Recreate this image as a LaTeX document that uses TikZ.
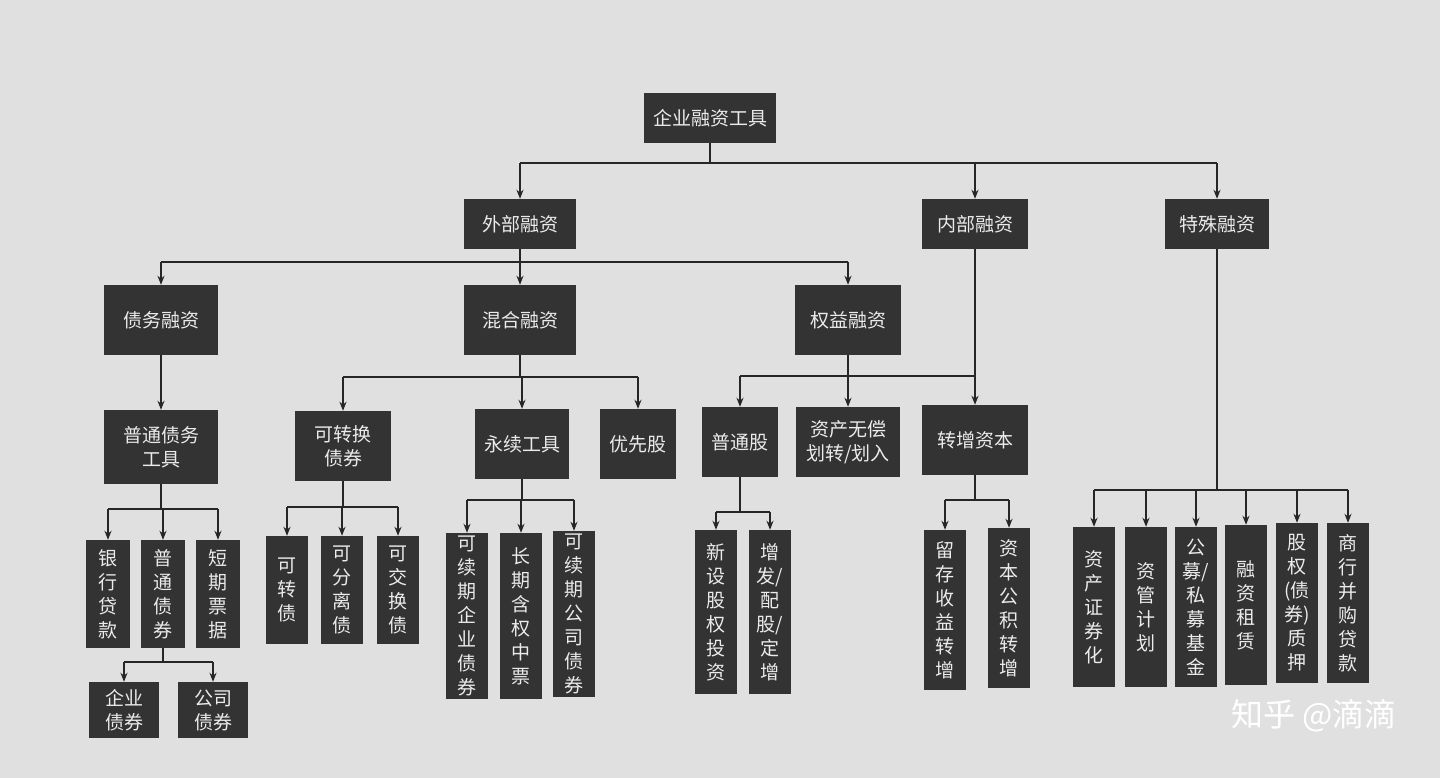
\documentclass[tikz,border=0pt]{standalone}
\usepackage{fontspec}
\setmainfont{Noto Sans CJK SC}
\usetikzlibrary{arrows.meta}
\begin{document}
\begin{tikzpicture}[x=1pt,y=-1pt,
 bx/.style={fill=black!80,text=white!92!black,font=\fontsize{19}{24}\selectfont,inner sep=0pt,align=center},
 ln/.style={draw=black!85,line width=1.6pt},
 arr/.style={ln,-{Stealth[length=9pt,width=7pt]}}]
\fill[black!12] (0,0) rectangle (1440,778);
\useasboundingbox (0,0) rectangle (1440,778);
\newcommand{\bn}[5]{\node[bx,minimum width=#3,minimum height=#4] (#1) at #2 {#5};}
\bn{root}{(710,118)}{132}{50}{企业融资工具}
\bn{wai}{(520,224)}{112}{50}{外部融资}
\bn{nei}{(975,224)}{106}{50}{内部融资}
\bn{te}{(1217,224)}{104}{50}{特殊融资}
\bn{zw}{(161,320)}{114}{70}{债务融资}
\bn{hh}{(520,320)}{112}{70}{混合融资}
\bn{qy}{(848,320)}{106}{70}{权益融资}
\bn{pt}{(161,447)}{114}{74}{普通债务\\工具}
\bn{kz}{(343,446)}{96}{70}{可转换\\债券}
\bn{yx}{(522,444)}{94}{70}{永续工具}
\bn{yxg}{(638,444)}{76}{70}{优先股}
\bn{ptg}{(740,442)}{76}{70}{普通股}
\bn{zc}{(848,442)}{104}{70}{资产无偿\\划转/划入}
\bn{zz}{(975,440)}{106}{70}{转增资本}
\bn{a1}{(108,594)}{44}{108}{银\\行\\贷\\款}
\bn{a2}{(163,594)}{44}{108}{普\\通\\债\\券}
\bn{a3}{(218,594)}{44}{108}{短\\期\\票\\据}
\bn{b1}{(287,590)}{42}{108}{可\\转\\债}
\bn{b2}{(342,590)}{42}{108}{可\\分\\离\\债}
\bn{b3}{(398,590)}{42}{108}{可\\交\\换\\债}
\bn{c1}{(467,616)}{42}{166}{可\\续\\期\\企\\业\\债\\券}
\bn{c2}{(521,616)}{42}{166}{长\\期\\含\\权\\中\\票}
\bn{c3}{(574,614)}{42}{166}{可\\续\\期\\公\\司\\债\\券}
\bn{d1}{(716,612)}{42}{164}{新\\设\\股\\权\\投\\资}
\bn{d2}{(770,612)}{42}{164}{增\\发/\\配\\股/\\定\\增}
\bn{e1}{(945,610)}{42}{160}{留\\存\\收\\益\\转\\增}
\bn{e2}{(1009,608)}{42}{160}{资\\本\\公\\积\\转\\增}
\bn{f1}{(1094,607)}{42}{160}{资\\产\\证\\券\\化}
\bn{f2}{(1146,607)}{42}{160}{资\\管\\计\\划}
\bn{f3}{(1196,607)}{42}{160}{公\\募/\\私\\募\\基\\金}
\bn{f4}{(1246,605)}{42}{160}{融\\资\\租\\赁}
\bn{f5}{(1297,603)}{42}{160}{股\\权\\(债\\券)\\质\\押}
\bn{f6}{(1348,603)}{42}{160}{商\\行\\并\\购\\贷\\款}
\bn{g1}{(124,710)}{70}{56}{企业\\债券}
\bn{g2}{(213,710)}{70}{56}{公司\\债券}
% connectors
\newcommand{\bus}[4]{\draw[ln] (#1.south) -- (#1.south |- 0,#2); \draw[ln] (#3.north |- 0,#2) -- (#4.north |- 0,#2);}
\newcommand{\ar}[2]{\draw[arr] (#1.north |- 0,#2) -- (#1.north);}
\bus{root}{163}{wai}{te} \ar{wai}{163}\ar{nei}{163}\ar{te}{163}
\bus{wai}{262}{zw}{qy} \ar{zw}{262}\ar{hh}{262}\ar{qy}{262}
\draw[arr] (zw) -- (pt);
\bus{hh}{377}{kz}{yxg} \ar{kz}{377}\ar{yx}{377}\ar{yxg}{377}
\draw[arr] (qy) -- (zc);
\draw[arr] (nei) -- (zz);
\draw[ln] (ptg.north |- 0,376) -- (zz.north |- 0,376); \ar{ptg}{376}
\bus{pt}{509}{a1}{a3} \ar{a1}{509}\ar{a2}{509}\ar{a3}{509}
\bus{a2}{662}{g1}{g2} \ar{g1}{662}\ar{g2}{662}
\bus{kz}{507}{b1}{b3} \ar{b1}{507}\ar{b2}{507}\ar{b3}{507}
\bus{yx}{500}{c1}{c3} \ar{c1}{500}\ar{c2}{500}\ar{c3}{500}
\bus{ptg}{512}{d1}{d2} \ar{d1}{512}\ar{d2}{512}
\bus{zz}{500}{e1}{e2} \ar{e1}{500}\ar{e2}{500}
\bus{te}{490}{f1}{f6} \ar{f1}{490}\ar{f2}{490}\ar{f3}{490}\ar{f4}{490}\ar{f5}{490}\ar{f6}{490}
\node[text=white,font=\fontsize{32}{36}\selectfont,anchor=east] (wm) at (1400,716) {知乎 @滴滴};
\end{tikzpicture}
\end{document}
